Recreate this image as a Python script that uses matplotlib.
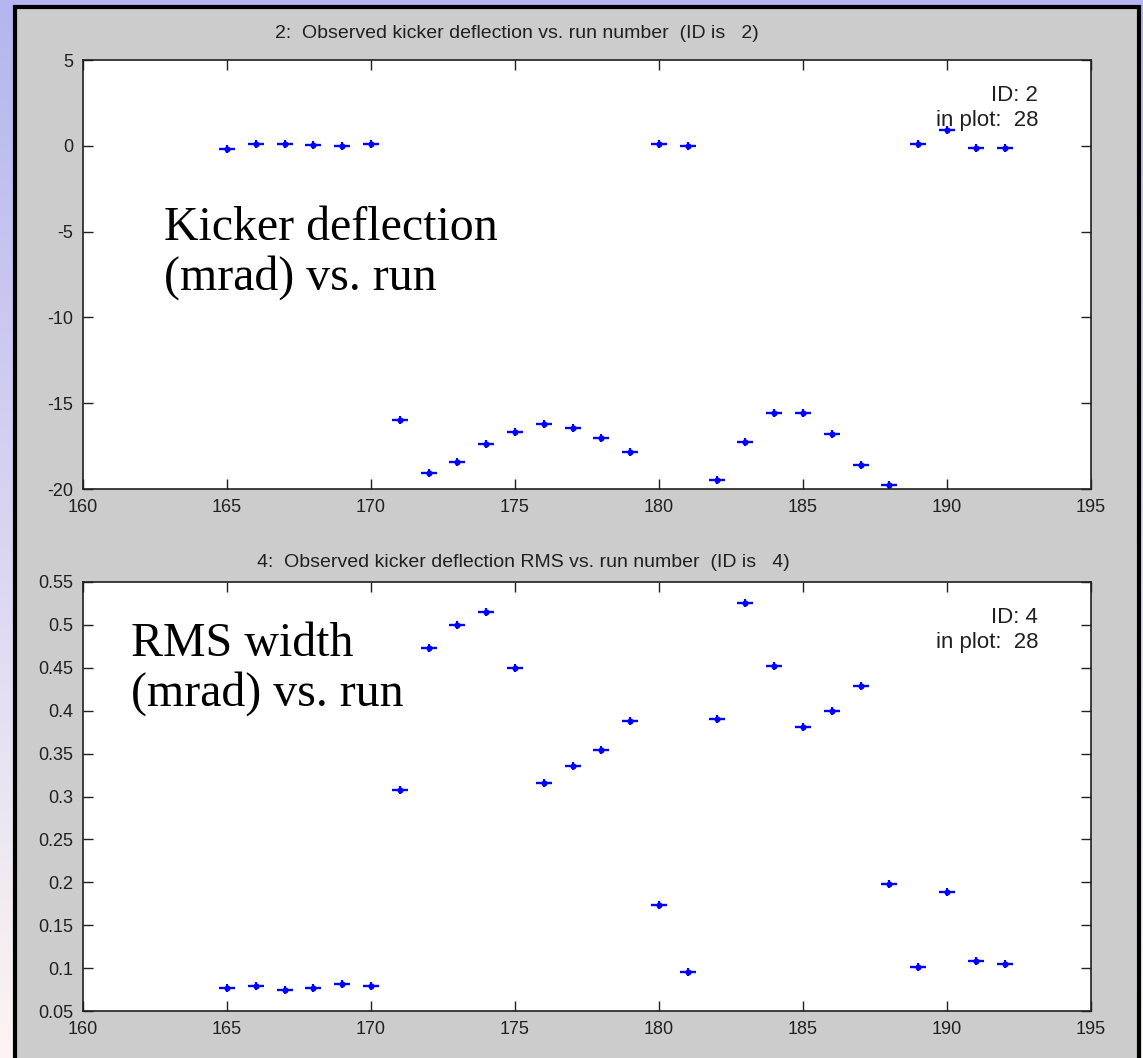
import numpy as np
import matplotlib
matplotlib.use("Agg")
import matplotlib.pyplot as plt
from matplotlib.patches import Rectangle

# run numbers shown in both panels
runs = list(range(165, 193))

# kicker deflection (mrad) per run
deflection = [-0.2, 0.1, 0.1, 0.05, 0.0, 0.1,
              -16.0, -19.05, -18.45, -17.4, -16.65, -16.2, -16.45, -17.05, -17.85,
              0.1, 0.0,
              -19.5, -17.25, -15.6, -15.55, -16.8, -18.6, -19.75,
              0.1, 0.9, -0.15, -0.15]

# RMS width (mrad) per run
rms_width = [0.077, 0.079, 0.075, 0.077, 0.081, 0.079,
             0.307, 0.473, 0.500, 0.515, 0.450, 0.316, 0.335, 0.354, 0.388,
             0.174, 0.096,
             0.390, 0.526, 0.452, 0.381, 0.400, 0.429, 0.198,
             0.101, 0.189, 0.108, 0.105]

x_ticks = [160, 165, 170, 175, 180, 185, 190, 195]
top_yticks = [-20, -15, -10, -5, 0, 5]
top_ylabels = ["-20", "-15", "-10", "-5", "0", "5"]
bot_yticks = [0.05, 0.1, 0.15, 0.2, 0.25, 0.3, 0.35, 0.4, 0.45, 0.5, 0.55]
bot_ylabels = ["0.05", "0.1", "0.15", "0.2", "0.25", "0.3", "0.35", "0.4", "0.45", "0.5", "0.55"]

W, H = 1143, 1058
fig = plt.figure(figsize=(W / 100, H / 100), dpi=100)
plt.rcParams['font.family'] = ['Liberation Sans', 'DejaVu Sans']

# slide background: lavender gradient behind the gray figure window
bg = fig.add_axes([0, 0, 1, 1], zorder=-10)
grad = np.linspace(0, 1, 256)[:, None, None]
top_c = np.array([0.71, 0.71, 0.94])
bot_c = np.array([0.99, 0.96, 0.95])
bg.imshow(top_c * (1 - grad) + bot_c * grad, aspect="auto", extent=[0, 1, 0, 1])
bg.set_axis_off()

fig.patches.append(Rectangle((15 / W, -0.01), (1139 - 15) / W, 1 - 7 / H + 0.01,
                             transform=fig.transFigure, facecolor="#cccccc",
                             edgecolor="black", linewidth=3, zorder=-5))


def fx(px):
    return px / W


def fy(py):
    return 1 - py / H


def style_axes(ax):
    ax.set_xlim(160, 195)
    ax.set_xticks(x_ticks)
    ax.set_xticklabels([str(t) for t in x_ticks])
    ax.tick_params(direction="in", length=7.5, width=1, top=True, right=True,
                   labelsize=13, colors="#202020", pad=7)
    for s in ax.spines.values():
        s.set_linewidth(1.2)
        s.set_color("#202020")


def draw_points(ax, y):
    ax.plot(runs, y, linestyle="none", marker="_", markersize=12,
            markeredgewidth=1.7, color="#0000ff")
    ax.plot(runs, y, linestyle="none", marker="o", markersize=4.4,
            markeredgewidth=0, color="#0000ff")
    ax.plot(runs, y, linestyle="none", marker="|", markersize=5.5,
            markeredgewidth=1.6, color="#0000ff")


def px_in_axes(px, py, top):
    # pixel position -> axes fraction (axes span x 83..1091, height 429)
    return (px - 83) / 1008, 1 - (py - top) / 429


# top panel
ax1 = fig.add_axes([fx(83), fy(489), fx(1091 - 83), (489 - 60) / H])
draw_points(ax1, deflection)
ax1.set_ylim(-20, 5)
ax1.set_yticks(top_yticks)
ax1.set_yticklabels(top_ylabels)
style_axes(ax1)
ax1.text(*px_in_axes(1038, 101, 60), "ID: 2", transform=ax1.transAxes,
         ha="right", va="baseline", fontsize=16, color="#202020")
ax1.text(*px_in_axes(1038, 126, 60), "in plot:  28", transform=ax1.transAxes,
         ha="right", va="baseline", fontsize=16, color="#202020")
ax1.text(*px_in_axes(164, 290, 60), "Kicker deflection\n(mrad) vs. run",
         transform=ax1.transAxes, ha="left", va="baseline", fontsize=34.5,
         family="Liberation Serif", linespacing=1.15)
fig.text(fx(275), fy(38), "2:  Observed kicker deflection vs. run number  (ID is   2)",
         fontsize=14, color="#202020", va="baseline")

# bottom panel
ax2 = fig.add_axes([fx(83), fy(1011), fx(1091 - 83), (1011 - 582) / H])
draw_points(ax2, rms_width)
ax2.set_ylim(0.05, 0.55)
ax2.set_yticks(bot_yticks)
ax2.set_yticklabels(bot_ylabels)
style_axes(ax2)
ax2.text(*px_in_axes(1038, 623, 582), "ID: 4", transform=ax2.transAxes,
         ha="right", va="baseline", fontsize=16, color="#202020")
ax2.text(*px_in_axes(1038, 648, 582), "in plot:  28", transform=ax2.transAxes,
         ha="right", va="baseline", fontsize=16, color="#202020")
ax2.text(*px_in_axes(131, 706, 582), "RMS width\n(mrad) vs. run",
         transform=ax2.transAxes, ha="left", va="baseline", fontsize=34.5,
         family="Liberation Serif", linespacing=1.15)
fig.text(fx(257), fy(567), "4:  Observed kicker deflection RMS vs. run number  (ID is   4)",
         fontsize=14, color="#202020", va="baseline")

plt.savefig("out.png", dpi=100)
